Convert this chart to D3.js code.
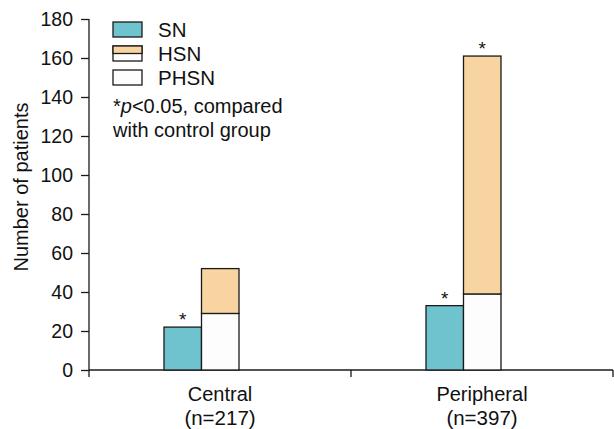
<!DOCTYPE html>
<html>
<head>
<meta charset="utf-8"/>
<script src="https://d3js.org/d3.v7.min.js"></script>
<style>
  body { margin: 0; background: #fff; }
  text { font-family: "Liberation Sans", Arial, sans-serif; fill: #111; }
</style>
</head>
<body>
<div id="output"></div>
<script>
// data
var groups = ["Central", "Peripheral"];
var groupLabels = ["(n=217)", "(n=397)"];
var snValues = [22, 33];
var phsnValues = [29, 39];
var hsnValues = [23, 122];
var yTicks = [0, 20, 40, 60, 80, 100, 120, 140, 160, 180];
var legendItems = ["SN", "HSN", "PHSN"];
// asterisk flags: SN bar, stacked bar
var snStar = [true, true];
var stackStar = [false, true];

var W = 614, H = 429;
var margin = {top: 19, right: 1, bottom: 59, left: 89};
var width = W - margin.left - margin.right,
    height = H - margin.top - margin.bottom;

var colors = {SN: "#6fc3cf", HSN: "#f8d5a0", PHSN: "#fdfdfd"};
var stroke = "#1a1a1a";
var fs = "20px";

var svg = d3.select("#output").append("svg")
    .attr("width", W).attr("height", H)
  .append("g")
    .attr("transform", "translate(" + margin.left + "," + margin.top + ")");

var x = d3.scaleBand().domain(groups).range([0, width]);
var bw = x.bandwidth();
// two bars per group, shifted a little left of the band centre
var xInner = d3.scaleBand().domain(["SN", "stack"]).range([bw / 2 - 56, bw / 2 + 19]);
var y = d3.scaleLinear().domain([0, 180]).range([height, 0]);

// Y axis
var yAxis = svg.append("g")
    .call(d3.axisLeft(y).tickValues(yTicks).tickSize(8).tickPadding(8));
yAxis.select(".domain").attr("d", "M0," + y(180) + "V" + height).attr("stroke", stroke).attr("stroke-width", 1.3);
yAxis.selectAll(".tick line").attr("stroke", stroke).attr("stroke-width", 1.3);
yAxis.selectAll(".tick text").style("font-size", "19.5px").attr("fill", "#111")
    .style("font-family", "'Liberation Sans', Arial, sans-serif");

// X axis with ticks on band edges
svg.append("line")
    .attr("x1", 0).attr("x2", width).attr("y1", height).attr("y2", height)
    .attr("stroke", stroke).attr("stroke-width", 1.3);
var edges = [0].concat(groups.map(function(g) { return x(g) + bw; }));
svg.selectAll(".xtick").data(edges).enter().append("line")
    .attr("x1", function(d) { return d; }).attr("x2", function(d) { return d; })
    .attr("y1", height).attr("y2", height + 7)
    .attr("stroke", stroke).attr("stroke-width", 1.3);

// group labels
groups.forEach(function(g, i) {
    var cx = x(g) + bw / 2;
    svg.append("text").attr("x", cx).attr("y", height + 31)
        .attr("text-anchor", "middle").style("font-size", fs).text(g);
    svg.append("text").attr("x", cx).attr("y", height + 55)
        .attr("text-anchor", "middle").style("font-size", "20.5px").text(groupLabels[i]);
});

// SN bars
var bars = svg.append("g");
groups.forEach(function(g, i) {
    var x0 = x(g) + xInner("SN");
    bars.append("rect")
        .attr("x", x0).attr("y", y(snValues[i]))
        .attr("width", xInner.bandwidth()).attr("height", height - y(snValues[i]))
        .attr("fill", colors.SN).attr("stroke", stroke).attr("stroke-width", 1.3);
    if (snStar[i]) {
        bars.append("text").attr("x", x0 + xInner.bandwidth() / 2).attr("y", y(snValues[i]) - 1)
            .attr("text-anchor", "middle").style("font-size", "19px").text("*");
    }
    // stacked PHSN + HSN
    var xs = x(g) + xInner("stack");
    bars.append("rect")
        .attr("x", xs).attr("y", y(phsnValues[i]))
        .attr("width", xInner.bandwidth()).attr("height", height - y(phsnValues[i]))
        .attr("fill", colors.PHSN).attr("stroke", stroke).attr("stroke-width", 1.3);
    var top = phsnValues[i] + hsnValues[i];
    bars.append("rect")
        .attr("x", xs).attr("y", y(top))
        .attr("width", xInner.bandwidth()).attr("height", y(phsnValues[i]) - y(top))
        .attr("fill", colors.HSN).attr("stroke", stroke).attr("stroke-width", 1.3);
    if (stackStar[i]) {
        bars.append("text").attr("x", xs + xInner.bandwidth() / 2).attr("y", y(top) - 1)
            .attr("text-anchor", "middle").style("font-size", "19px").text("*");
    }
});

// Y axis title
svg.append("text")
    .attr("transform", "rotate(-90)")
    .attr("x", -168).attr("y", -61)
    .attr("text-anchor", "middle").style("font-size", fs)
    .text("Number of patients");

// legend
var lg = svg.append("g").attr("transform", "translate(" + (113 - margin.left) + "," + (22 - margin.top) + ")");
legendItems.forEach(function(name, i) {
    var gy = i * 24;
    if (name === "HSN") {
        lg.append("rect").attr("x", 0).attr("y", gy).attr("width", 29).attr("height", 15)
            .attr("fill", colors.PHSN).attr("stroke", stroke).attr("stroke-width", 1.3);
        lg.append("rect").attr("x", 0).attr("y", gy).attr("width", 29).attr("height", 7.5)
            .attr("fill", colors.HSN).attr("stroke", stroke).attr("stroke-width", 1.3);
    } else {
        lg.append("rect").attr("x", 0).attr("y", gy).attr("width", 29).attr("height", 15)
            .attr("fill", colors[name]).attr("stroke", stroke).attr("stroke-width", 1.3);
    }
    lg.append("text").attr("x", 45).attr("y", gy + 15).style("font-size", "20.5px").text(name);
});
var note = lg.append("text").attr("x", 0).attr("y", 91).style("font-size", fs);
note.append("tspan").text("*");
note.append("tspan").style("font-style", "italic").text("p");
note.append("tspan").text("<0.05, compared");
lg.append("text").attr("x", 0).attr("y", 115).style("font-size", fs).text("with control group");
</script>
</body>
</html>
